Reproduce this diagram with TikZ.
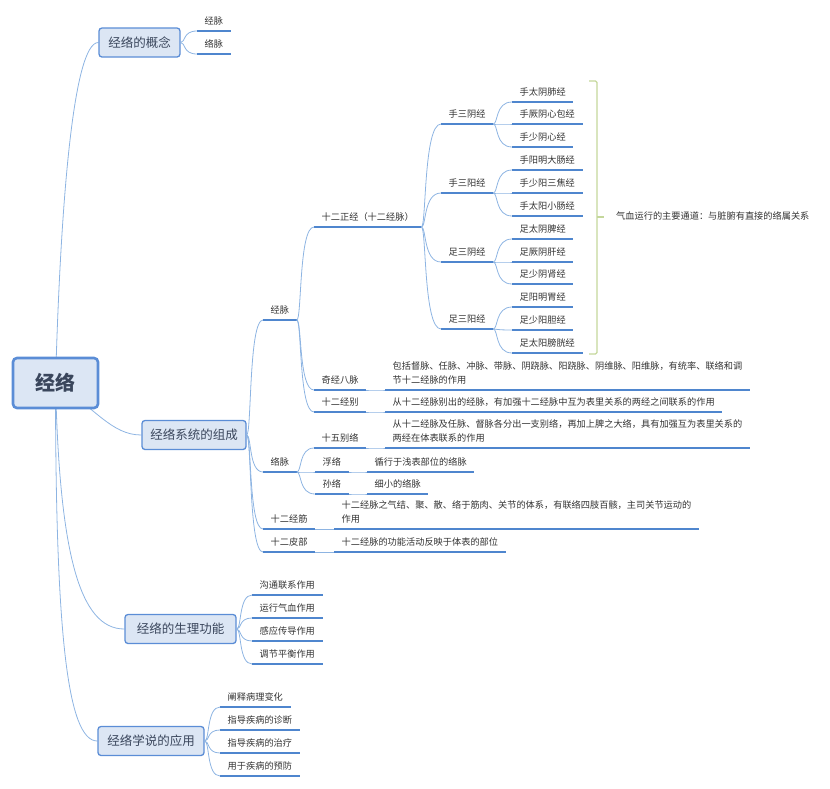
\documentclass[tikz,border=0pt]{standalone}
\usepackage{fontspec}
\newfontfamily\cjk{Noto Sans CJK SC}
\usetikzlibrary{calc,backgrounds}
\definecolor{boxline}{RGB}{91,141,214}
\definecolor{boxfill}{RGB}{220,230,244}
\definecolor{boxtext}{RGB}{58,70,92}
\definecolor{topictext}{RGB}{51,51,51}
\definecolor{underline}{RGB}{79,134,206}
\definecolor{connline}{RGB}{141,180,226}
\definecolor{braceline}{RGB}{196,215,155}
\begin{document}
\begin{tikzpicture}
[x=1pt, y=-1pt,
 rootdecorate/.style={draw=boxline, fill=boxfill, line width=2.6pt, rounded corners=4pt,
   minimum width=85pt, minimum height=50pt, text=boxtext, font=\cjk\fontsize{20}{24}\selectfont\bfseries},
 boxdecorate/.style={draw=boxline, fill=boxfill, line width=1.3pt, rounded corners=3pt,
   minimum height=29pt, text=boxtext, font=\cjk\fontsize{12.5}{15}\selectfont},
 topicdecorate/.style={anchor=south west, align=left, inner xsep=7.5pt, inner ysep=3pt,
   text height=7.5pt, text depth=3pt, text=topictext, font=\cjk\fontsize{9.2}{14}\selectfont},
 underdecorate/.style={draw=underline, line width=2.2pt},
 linedecorate/.style={draw=connline, line width=0.8pt,
   to path={.. controls ($(\tikztostart)+(5,0)$) and ($(\tikztostart|-\tikztotarget)+(2,0)$) .. (\tikztotarget)}},
 rootlinedecorate/.style={draw=connline, line width=0.8pt},
 bracedecorate/.style={draw=braceline, line width=1.2pt, rounded corners=1.5pt}]
\useasboundingbox (0,0) rectangle (830,788);
%% central topic and main boxes
\node[rootdecorate] (root) at (55.5,383) {经络};
\node[boxdecorate, minimum width=81pt] (concept) at (139.5,42.5) {经络的概念};
\node[boxdecorate, minimum width=104pt] (system) at (194,435) {经络系统的组成};
\node[boxdecorate, minimum width=111pt] (function) at (180.5,629) {经络的生理功能};
\node[boxdecorate, minimum width=106pt] (usage) at (151,741) {经络学说的应用};
%% underlined topics
\foreach \name/\x/\y/\txt in {jm/197/31/经脉, lm/197/54/络脉,
  jingmai/263/320/经脉, zhengjing/314/227/十二正经（十二经脉）,
  shouyin/441/124/手三阴经, shouyang/441/193/手三阳经, zuyin/441/262/足三阴经, zuyang/441/329/足三阳经,
  m1/512/102/手太阴肺经, m2/512/124/手厥阴心包经, m3/512/147/手少阴心经,
  m4/512/170/手阳明大肠经, m5/512/193/手少阳三焦经, m6/512/216/手太阳小肠经,
  m7/512/239/足太阴脾经, m8/512/262/足厥阴肝经, m9/512/284/足少阴肾经,
  m10/512/307/足阳明胃经, m11/512/330/足少阳胆经, m12/512/353/足太阳膀胱经,
  qijing/314/390/奇经八脉, jingbie/314/412/十二经别,
  luomai/263/472/络脉, bieluo/314/448/十五别络, fuluo/315/472/浮络, sunluo/315/494/孙络,
  jingjin/263/529/十二经筋, pibu/263/552/十二皮部,
  qijingd/385/390/{包括督脉、任脉、冲脉、带脉、阴跷脉、阳跷脉、阴维脉、阳维脉，有统率、联络和调\\节十二经脉的作用},
  jingbied/385/412/{从十二经脉别出的经脉，有加强十二经脉中互为表里关系的两经之间联系的作用},
  bieluod/385/448/{从十二经脉及任脉、督脉各分出一支别络，再加上脾之大络，具有加强互为表里关系的\\两经在体表联系的作用},
  fuluod/367/472/循行于浅表部位的络脉, sunluod/367/494/细小的络脉,
  jingjind/334/529/{十二经脉之气结、聚、散、络于筋肉、关节的体系，有联络四肢百骸，主司关节运动的\\作用},
  pibud/334/552/十二经脉的功能活动反映于体表的部位,
  f1/252/595/沟通联系作用, f2/252/618/运行气血作用, f3/252/641/感应传导作用, f4/252/664/调节平衡作用,
  u1/220/707/阐释病理变化, u2/220/730/指导疾病的诊断, u3/220/753/指导疾病的治疗, u4/220/776/用于疾病的预防} {
  \node[topicdecorate] (\name) at (\x,\y) {\txt};
  \draw[underdecorate] (\name.south west) -- (\name.south east);
}
%% brace and its note
\coordinate (bracetop) at (589,81);
\coordinate (bracebottom) at (589,354);
\coordinate (bracemid) at (604,217);
\draw[bracedecorate] (bracetop) -- (597,81) -- (597,354) -- (bracebottom);
\draw[bracedecorate] (597,217) -- (bracemid);
\node[anchor=west, inner sep=0pt, text=topictext, font=\cjk\fontsize{9.2}{14}\selectfont] (note) at (616,216) {气血运行的主要通道：与脏腑有直接的络属关系};
%% connectors from the boxes
\path
\foreach \startnode/\endnode in {concept/jm, concept/lm, system/jingmai, system/luomai, system/jingjin, system/pibu,
  function/f1, function/f2, function/f3, function/f4, usage/u1, usage/u2, usage/u3, usage/u4} {
  (\startnode.east) edge[linedecorate] (\endnode.south west)
};
%% connectors between topics
\path
\foreach \startnode/\endnode in {jingmai/zhengjing, jingmai/qijing, jingmai/jingbie,
  zhengjing/shouyin, zhengjing/shouyang, zhengjing/zuyin, zhengjing/zuyang,
  shouyin/m1, shouyin/m2, shouyin/m3, shouyang/m4, shouyang/m5, shouyang/m6,
  zuyin/m7, zuyin/m8, zuyin/m9, zuyang/m10, zuyang/m11, zuyang/m12,
  qijing/qijingd, jingbie/jingbied, luomai/bieluo, luomai/fuluo, luomai/sunluo,
  bieluo/bieluod, fuluo/fuluod, sunluo/sunluod, jingjin/jingjind, pibu/pibud} {
  (\startnode.south east) edge[linedecorate] (\endnode.south west)
};
%% connectors from the central topic
\begin{scope}[on background layer]
\draw[rootlinedecorate] (root.center) .. controls +(5,-180) and +(-25,0) .. (concept.west);
\draw[rootlinedecorate] (root.center) .. controls +(40,25) and +(-30,0) .. (system.west);
\draw[rootlinedecorate] (root.center) .. controls +(4,170) and +(-45,0) .. (function.west);
\draw[rootlinedecorate] (root.center) .. controls +(0,250) and +(-30,0) .. (usage.west);
\end{scope}
\end{tikzpicture}
\end{document}
